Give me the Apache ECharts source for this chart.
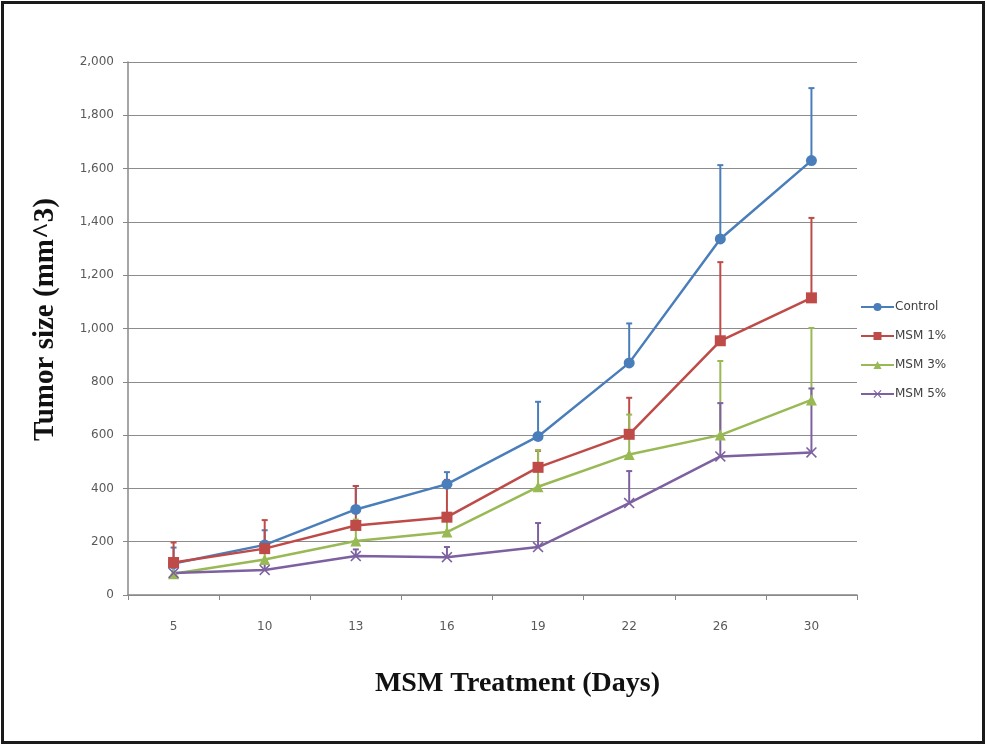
<!DOCTYPE html>
<html><head><meta charset="utf-8">
<script src="https://cdn.jsdelivr.net/npm/echarts@6/dist/echarts.min.js"></script>
<style>html,body{margin:0;padding:0;background:#fff}#c{width:987px;height:746px}</style>
</head><body><div id="c"></div>
<script>
const categories = ['5','10','13','16','19','22','26','30'];
const control = [118, 188, 321, 416, 595, 871, 1336, 1630];
const msm1 = [122, 174, 261, 292, 479, 603, 954, 1115];
const msm3 = [80, 133, 203, 236, 406, 527, 600, 732];
const msm5 = [83, 94, 146, 142, 180, 345, 520, 535];
const controlErr = [60, 55, 88, 45, 130, 148, 277, 272];
const msm1Err = [75, 107, 148, 140, 62, 137, 295, 300];
const msm3Err = [40, 60, 80, 70, 138, 150, 278, 270];
const msm5Err = [20, 35, 25, 38, 90, 120, 200, 240];
const yTicks = [0, 200, 400, 600, 800, 1000, 1200, 1400, 1600, 1800, 2000];

const colors = ['#4a7ebb', '#be4b48', '#98b954', '#7d60a0'];
const names = ['Control', 'MSM 1%', 'MSM 3%', 'MSM 5%'];
const vals = [control, msm1, msm3, msm5];
const errs = [controlErr, msm1Err, msm3Err, msm5Err];
const symbols = ['circle', 'rect', 'triangle', 'path://M0,1L1,0L5,4L9,0L10,1L6,5L10,9L9,10L5,6L1,10L0,9L4,5Z'];
const sizes = [11, 11, 11, 11];

const chart = echarts.init(document.getElementById('c'));
const series = [];
vals.forEach((v, i) => {
  series.push({
    type: 'custom', name: names[i] + ' err', silent: true, z: 1,
    data: v.map((y, j) => [j, y, y + errs[i][j]]),
    renderItem: function (params, api) {
      const p0 = api.coord([api.value(0), api.value(1)]);
      const p1 = api.coord([api.value(0), api.value(2)]);
      const style = { stroke: colors[i], lineWidth: 2 };
      return { type: 'group', children: [
        { type: 'line', shape: { x1: p0[0], y1: p0[1], x2: p1[0], y2: p1[1] }, style: style },
        { type: 'line', shape: { x1: p1[0] - 3, y1: p1[1], x2: p1[0] + 3, y2: p1[1] }, style: style }
      ]};
    }
  });
});
vals.forEach((v, i) => {
  series.push({
    type: 'line', name: names[i], data: v, z: 2,
    symbol: symbols[i], symbolSize: sizes[i], showAllSymbol: true,
    lineStyle: { color: colors[i], width: 2.5 },
    itemStyle: { color: colors[i] }
  });
});

chart.setOption({
  animation: false,
  color: colors,
  grid: { left: 128, right: 130, top: 62, bottom: 151 },
  legend: {
    data: names, orient: 'vertical', left: 855, top: 296, itemGap: 17,
    itemWidth: 33, itemHeight: 10,
    textStyle: { fontFamily: 'DejaVu Sans', fontSize: 12, color: '#404040', padding: [0, 0, 0, -4] }
  },
  xAxis: {
    type: 'category', data: categories, boundaryGap: true,
    name: 'MSM Treatment (Days)', nameLocation: 'middle', nameGap: 75,
    nameTextStyle: { fontFamily: 'Liberation Serif', fontWeight: 'bold', fontSize: 28, color: '#111', padding: [0, 0, 0, 50] },
    axisLine: { lineStyle: { color: '#888', width: 1.5 } },
    axisTick: { show: true, alignWithLabel: false, length: 5, lineStyle: { color: '#888' } },
    axisLabel: { margin: 26, fontFamily: 'DejaVu Sans', fontSize: 12, color: '#595959' }
  },
  yAxis: {
    type: 'value', min: 0, max: 2000, interval: 200,
    name: 'Tumor size (mm^3)', nameLocation: 'middle', nameGap: 68,
    nameTextStyle: { fontFamily: 'Liberation Serif', fontWeight: 'bold', fontSize: 29, color: '#111', padding: [0, 0, 0, 18] },
    axisLine: { show: true, lineStyle: { color: '#888', width: 1.5 } },
    axisTick: { show: true, length: 5, lineStyle: { color: '#888' } },
    splitLine: { lineStyle: { color: '#8c8c8c', width: 1.2 } },
    axisLabel: { margin: 14, fontFamily: 'DejaVu Sans', fontSize: 12, color: '#595959',
      formatter: v => yTicks.includes(v) ? v.toLocaleString('en-US') : '' }
  },
  graphic: [{
    type: 'rect', silent: true, z: 100,
    shape: { x: 2.5, y: 2.5, width: 981, height: 740 },
    style: { fill: 'none', stroke: '#1a1a1a', lineWidth: 3 }
  }],
  series: series
});
</script></body></html>
